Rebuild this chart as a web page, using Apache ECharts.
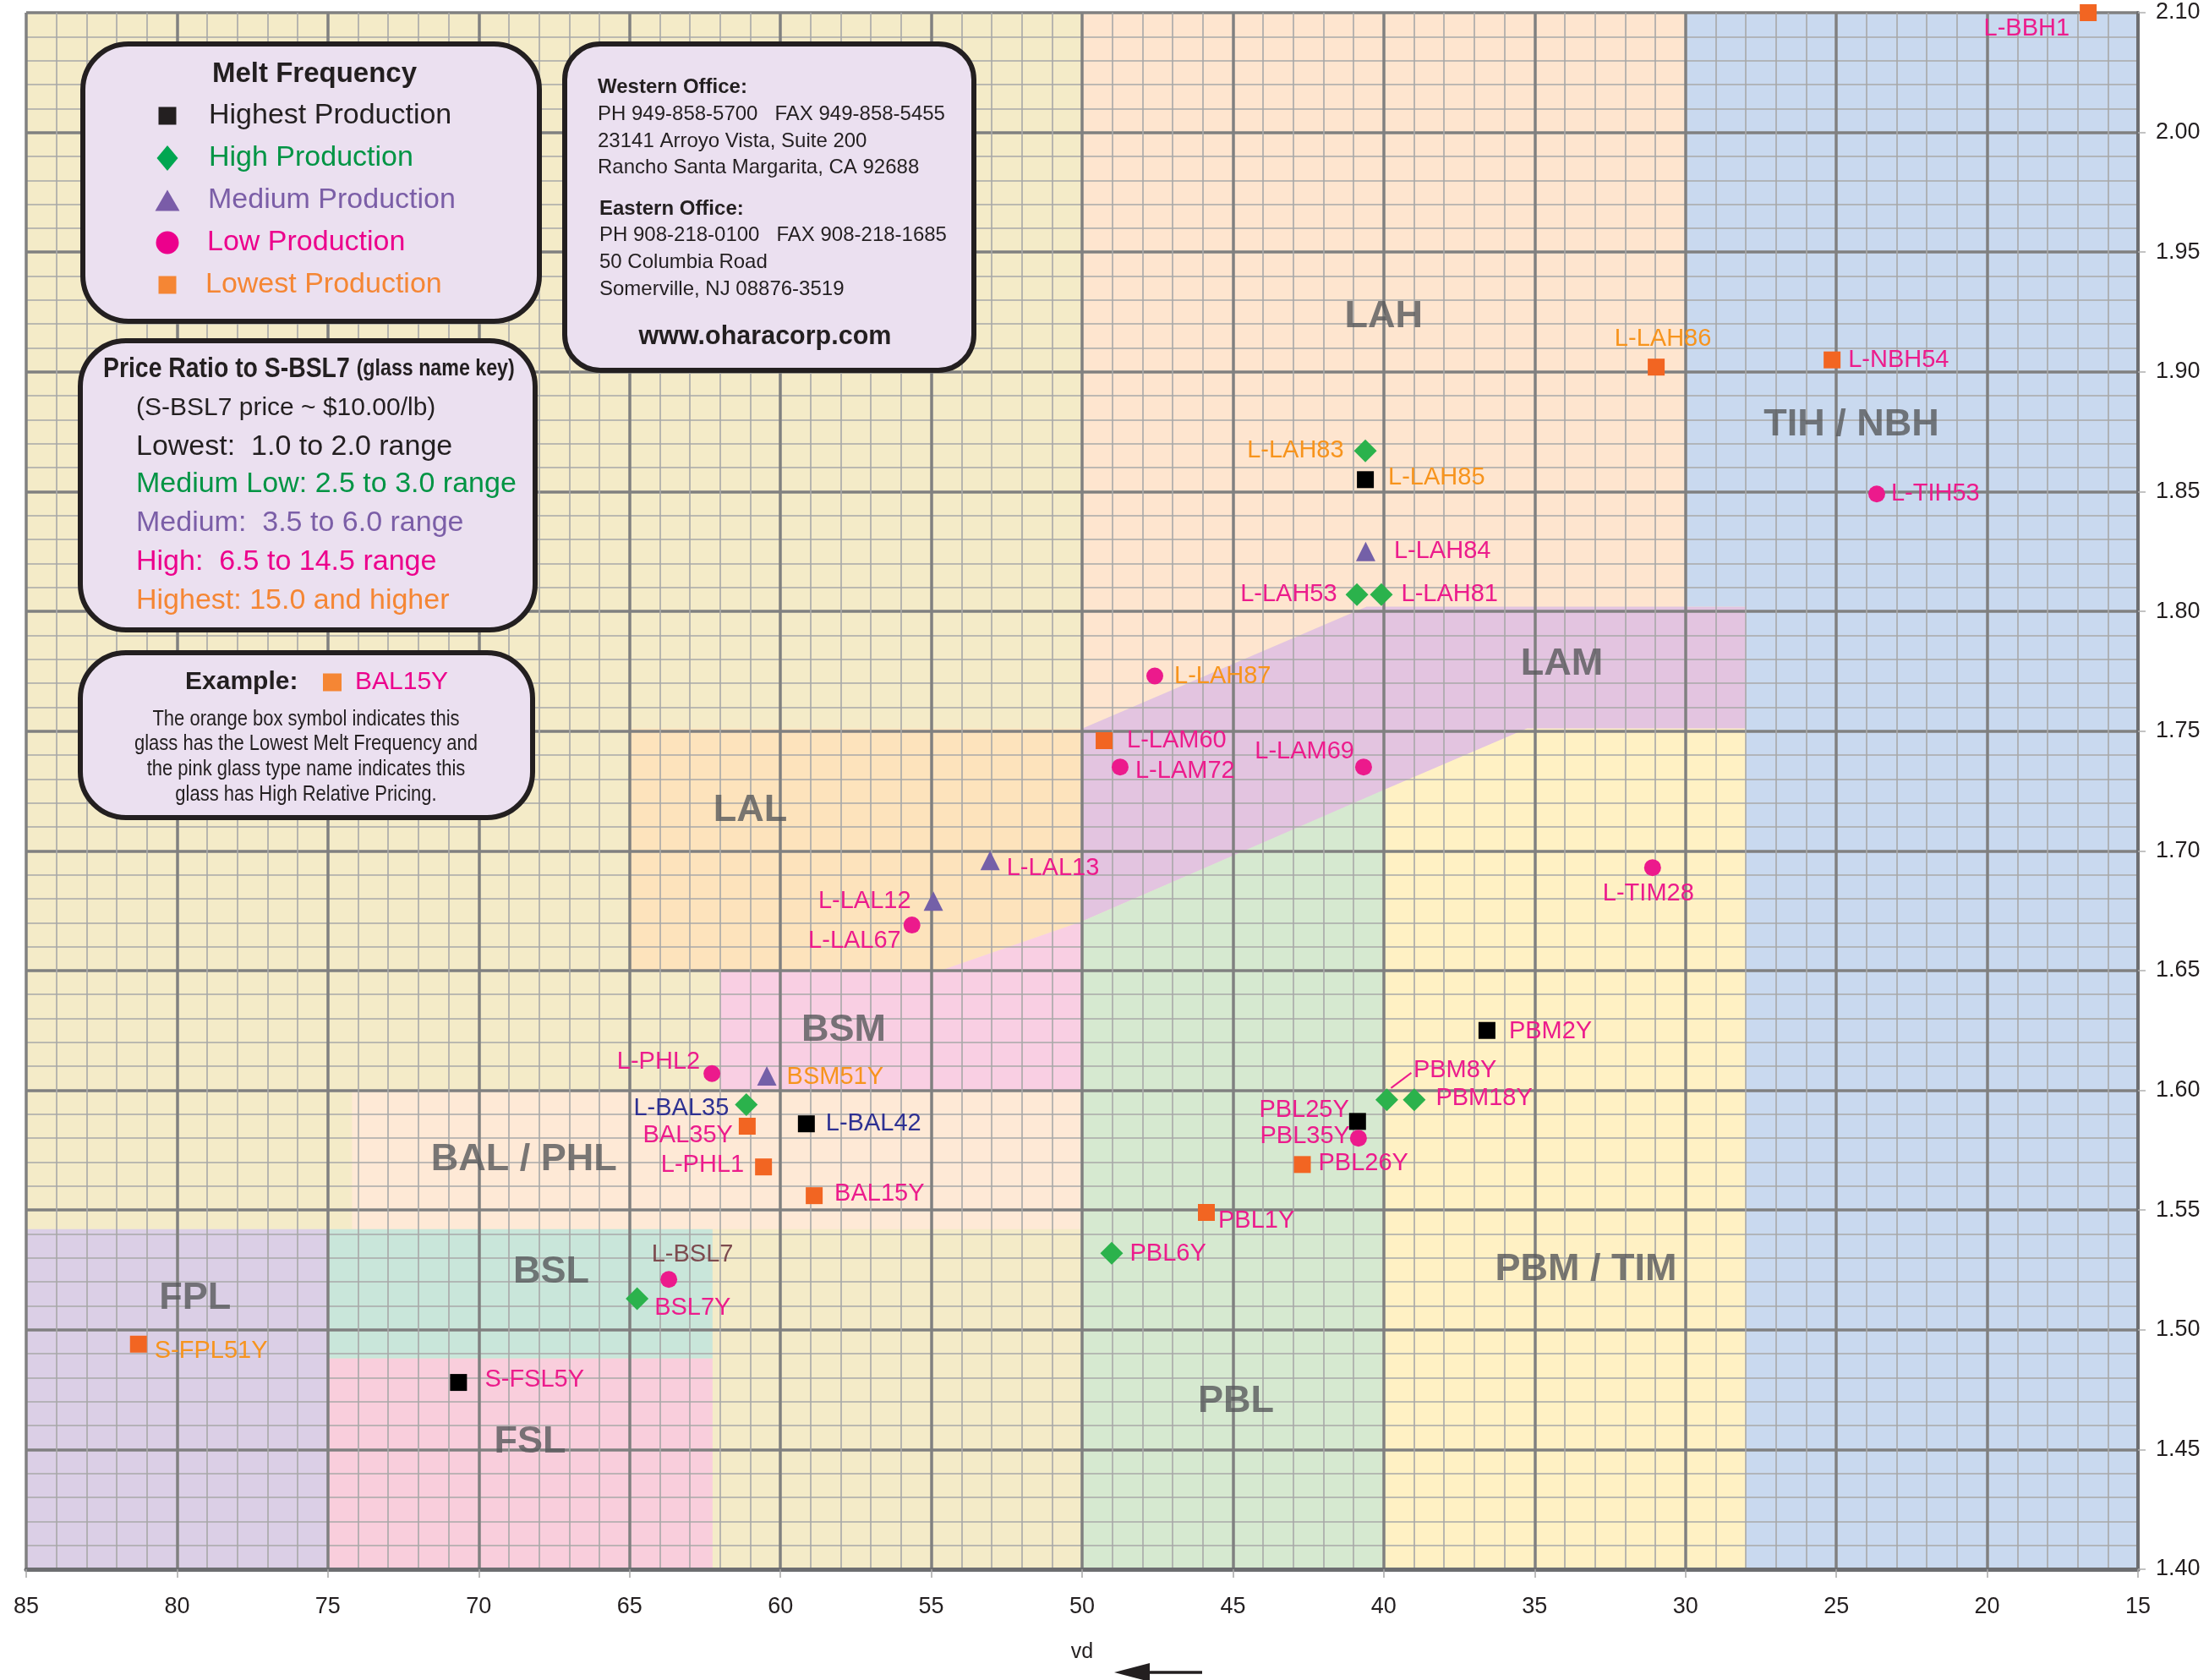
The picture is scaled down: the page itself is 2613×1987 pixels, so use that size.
<!DOCTYPE html>
<html><head><meta charset="utf-8">
<script src="https://cdn.jsdelivr.net/npm/echarts@6/dist/echarts.min.js"></script>
<style>html,body{margin:0;padding:0;background:#fff}#c{width:2613px;height:1987px}</style>
</head><body><div id="c"></div>
<script>
// ================= DATA =================
const xTickValues = [15, 20, 25, 30, 35, 40, 45, 50, 55, 60, 65, 70, 75, 80, 85];
const yTickLabels = ['1.40','1.45','1.50','1.55','1.60','1.65','1.70','1.75','1.80','1.85','1.90','1.95','2.00','2.10'];

const glassNames = ['L-BBH1','L-LAH86','L-NBH54','L-TIH53','L-TIM28','L-LAH83','L-LAH85','L-LAH84','L-LAH53','L-LAH81',
  'L-LAH87','L-LAM60','L-LAM72','L-LAM69','L-LAL13','L-LAL12','L-LAL67','L-PHL2','BSM51Y','L-BAL35',
  'BAL35Y','L-BAL42','L-PHL1','BAL15Y','PBM2Y','PBM8Y','PBM18Y','PBL25Y','PBL35Y','PBL26Y',
  'PBL1Y','PBL6Y','L-BSL7','BSL7Y','S-FPL51Y','S-FSL5Y'];
const glassVd = [16.65,30.97,25.14,23.66,31.09,40.61,40.61,40.60,40.89,40.08,
  47.59,49.27,48.74,40.67,53.05,54.93,55.64,62.27,60.45,61.13,
  61.10,59.14,60.56,58.88,36.58,39.90,38.99,40.87,40.84,42.70,
  45.88,49.02,63.70,64.75,81.28,70.67];
const glassNd = [2.100,1.902,1.905,1.849,1.693,1.867,1.855,1.825,1.807,1.807,
  1.773,1.746,1.735,1.735,1.696,1.679,1.669,1.607,1.606,1.594,
  1.585,1.586,1.568,1.556,1.625,1.596,1.596,1.587,1.580,1.569,
  1.549,1.532,1.521,1.513,1.494,1.478];
// melt frequency class
const glassMelt = ['Lowest','Lowest','Lowest','Low','Low','High','Highest','Medium','High','High',
  'Low','Lowest','Low','Low','Medium','Medium','Low','Low','Medium','High',
  'Lowest','Highest','Lowest','Lowest','Highest','High','High','Highest','Low','Lowest',
  'Lowest','High','Low','High','Lowest','Highest'];
// price class (name colour key)
const glassPrice = ['High','Highest','High','High','High','Highest','Highest','High','High','High',
  'Highest','High','High','High','High','High','High','High','Highest','Navy',
  'High','Navy','High','High','High','High','High','High','High','High',
  'High','High','Brown','High','Highest','High'];

const meltKeys = ['Highest','High','Medium','Low','Lowest'];
const meltNames = ['Highest Production','High Production','Medium Production','Low Production','Lowest Production'];

// glass type regions (vd, nd); nd 2.10 = top of chart
const regionNames = ['base','LAH','LAM','LAL','BSM','BAL/PHL','PBL','PBM/TIM','TIH/NBH','FPL','BSL','FSL'];
const regionPolys = [
  [[85,1.40],[15,1.40],[15,2.10],[85,2.10]],
  [[50,1.751],[50,2.10],[30,2.10],[30,1.802],[40.57,1.802]],
  [[50,1.751],[40.57,1.802],[28,1.802],[28,1.751],[35.26,1.751],[50,1.6705]],
  [[65,1.65],[54.7,1.65],[50,1.6705],[50,1.751],[65,1.751]],
  [[62,1.60],[50,1.60],[50,1.6705],[54.7,1.65],[62,1.65]],
  [[74.2,1.542],[50,1.542],[50,1.60],[74.2,1.60]],
  [[50,1.40],[40,1.40],[40,1.7254],[50,1.6705]],
  [[40,1.40],[28,1.40],[28,1.751],[35.26,1.751],[40,1.7254]],
  [[30,2.10],[15,2.10],[15,1.40],[28,1.40],[28,1.802],[30,1.802]],
  [[85,1.40],[75,1.40],[75,1.542],[85,1.542]],
  [[75,1.488],[62.25,1.488],[62.25,1.542],[75,1.542]],
  [[75,1.40],[62.25,1.40],[62.25,1.488],[75,1.488]]
];
const regionLabelNames = ['LAH','LAM','TIH / NBH','LAL','BSM','BAL / PHL','FPL','BSL','FSL','PBL','PBM / TIM'];
const regionLabelVd = [40.0,34.1,24.5,61.0,57.9,68.5,79.4,67.6,68.3,44.9,33.3];
const regionLabelNd = [1.923,1.778,1.878,1.717,1.625,1.571,1.513,1.524,1.453,1.470,1.525];

// ================= STYLES =================
const FONT = '"Liberation Sans", Arial, Helvetica, sans-serif';
const regionColors = ['#f4ebc8','#fee5cf','#e3c4e0','#fde3bc','#f9cfe3','#fee9d6','#d6e9d0','#fff1c4','#c9d9ef','#dbcfe6','#c9e6da','#f9cedc'];
const meltStyle = {
  Highest: {symbol:'rect', size:[20,20], color:'#000000'},
  High:    {symbol:'diamond', size:[27,27], color:'#2bb24c'},
  Medium:  {symbol:'triangle', size:[23,23], color:'#7460a8'},
  Low:     {symbol:'circle', size:[20,20], color:'#ec1a8c'},
  Lowest:  {symbol:'rect', size:[20,20], color:'#f26522'}
};
const priceColor = {Highest:'#f7941d', High:'#ec1c8c', Navy:'#2e3192', Brown:'#7d4b4f'};
// label placement: [position, distance, dx, dy]
const labelPlace = {
  'L-BBH1':['left',12,0,19], 'L-LAH86':['top',9,8,0], 'L-NBH54':['right',9,0,0], 'L-TIH53':['right',7,0,0],
  'L-TIM28':['bottom',6,-5,0], 'L-LAH83':['left',12,0,0], 'L-LAH85':['right',17,0,-2], 'L-LAH84':['right',22,0,0],
  'L-LAH53':['left',10,0,0], 'L-LAH81':['right',10,0,0], 'L-LAH87':['right',13,0,0], 'L-LAM60':['right',17,0,0],
  'L-LAM72':['right',8,0,5], 'L-LAM69':['left',1,0,-18], 'L-LAL13':['right',8,0,9], 'L-LAL12':['left',15,0,0],
  'L-LAL67':['left',3,0,19], 'L-PHL2':['left',4,0,-14], 'BSM51Y':['right',12,0,1], 'L-BAL35':['left',7,0,4],
  'BAL35Y':['left',7,0,11], 'L-BAL42':['right',13,0,0], 'L-PHL1':['left',13,0,-2], 'BAL15Y':['right',14,0,-2],
  'PBM2Y':['right',16,0,1], 'PBM8Y':['right',18,0,-35], 'PBM18Y':['right',12,0,-2], 'PBL25Y':['left',0,0,-13],
  'PBL35Y':['left',0,0,-2], 'PBL26Y':['right',9,0,-1], 'PBL1Y':['right',4,0,10], 'PBL6Y':['right',8,0,1],
  'L-BSL7':['top',5,28,0], 'BSL7Y':['right',7,0,11], 'S-FPL51Y':['right',9,0,8], 'S-FSL5Y':['right',21,0,-3]
};
const leaderNames = ['PBM8Y'];

// top segment of the axis (2.00 - 2.10) is drawn at half scale
function yMap(v){ return v <= 2.0 ? v : 2.0 + (v - 2.0) / 2; }

const chart = echarts.init(document.getElementById('c'), null, {renderer:'canvas'});

const regionSeries = {
  type:'custom', z:1, silent:true, clip:false,
  data: regionNames.map((n,i)=>[i]),
  renderItem: function(params, api){
    const i = params.dataIndex;
    const pts = regionPolys[i].map(p => api.coord([p[0], yMap(p[1])]));
    return {type:'polygon', shape:{points:pts}, style:{fill:regionColors[i], stroke:null}};
  }
};

const scatterSeries = meltKeys.map((k, si) => {
  const st = meltStyle[k];
  const data = [];
  glassNames.forEach((n, i) => {
    if (glassMelt[i] !== k) return;
    const lp = labelPlace[n];
    data.push({
      name:n, value:[glassVd[i], yMap(glassNd[i])],
      label:{show:true, formatter:n, position:lp[0], distance:lp[1], offset:[lp[2], lp[3]],
        color:priceColor[glassPrice[i]], fontSize:29, fontFamily:FONT}
    });
  });
  return {
    type:'scatter', name:meltNames[si], z:6, symbol:st.symbol, symbolSize:st.size,
    itemStyle:{color:st.color, opacity:1}, data, silent:true
  };
});

const leaderSeries = {
  type:'custom', z:6, silent:true, clip:false,
  data: leaderNames.map(n => { const i = glassNames.indexOf(n); return [glassVd[i], yMap(glassNd[i])]; }),
  renderItem: function(params, api){
    const p = api.coord([api.value(0), api.value(1)]);
    return {type:'line', shape:{x1:p[0]+5, y1:p[1]-14, x2:p[0]+29, y2:p[1]-32},
      style:{stroke:'#ec1c8c', lineWidth:2}};
  }
};

const regionLabelSeries = {
  type:'scatter', z:5, silent:true, symbolSize:1, itemStyle:{color:'rgba(0,0,0,0)'},
  data: regionLabelNames.map((n,i)=>({name:n, value:[regionLabelVd[i], yMap(regionLabelNd[i])]})),
  label:{show:true, position:'inside', formatter:'{b}', color:'#58595b', fontSize:45, fontWeight:'bold', fontFamily:FONT}
};

// ---------- graphic helpers ----------
function T(x, y, text, size, fill, o){
  o = o || {};
  const align = o.align || 'left';
  const st = {text, x:0, y:0, font:(o.bold?'bold ':'') + size + 'px ' + FONT, fill,
    textAlign:align, align:align, textVerticalAlign:'middle', verticalAlign:'middle'};
  if (o.rich) st.rich = o.rich;
  return {type:'text', x, y, scaleX:o.sx||1, scaleY:1, z:101, silent:true, style:st};
}
function box(x, y, w, h, r){
  return {type:'rect', z:100, silent:true, shape:{x, y, width:w, height:h, r},
    style:{fill:'#ebe0f0', stroke:'#231f20', lineWidth:6}};
}
const K = '#231f20';
const graphics = [
  // melt frequency box
  box(98, 52, 540, 328, 54),
  T(372, 88, 'Melt Frequency', 33, K, {bold:true, align:'center'}),
  {type:'rect', z:101, silent:true, shape:{x:187.5, y:126.5, width:21, height:21}, style:{fill:K}},
  T(247, 137, 'Highest Production', 34, K),
  {type:'polygon', z:101, silent:true, shape:{points:[[198,172],[210.5,187],[198,202],[185.5,187]]}, style:{fill:'#00a651'}},
  T(247, 187, 'High Production', 34, '#009444'),
  {type:'polygon', z:101, silent:true, shape:{points:[[198,224.5],[212.5,249.5],[183.5,249.5]]}, style:{fill:'#7a5ca8'}},
  T(246, 237, 'Medium Production', 34, '#7b5ea7'),
  {type:'circle', z:101, silent:true, shape:{cx:198, cy:287, r:13.5}, style:{fill:'#ec008c'}},
  T(245, 287, 'Low Production', 34, '#ec008c'),
  {type:'rect', z:101, silent:true, shape:{x:187.5, y:326.5, width:21, height:21}, style:{fill:'#f58634'}},
  T(243, 337, 'Lowest Production', 34, '#f58634'),

  // price ratio box
  box(95, 403, 538, 342, 54),
  T(122, 437, '{a|Price Ratio to S-BSL7 }{b|(glass name key)}', 33, K, {sx:0.86, rich:{
    a:{fontSize:33, fontWeight:'bold', fontFamily:FONT, fill:K},
    b:{fontSize:27, fontWeight:'bold', fontFamily:FONT, fill:K}}}),
  T(161, 483, '(S-BSL7 price ~ $10.00/lb)', 30, K),
  T(161, 529, 'Lowest:  1.0 to 2.0 range', 34, K),
  T(161, 573, 'Medium Low: 2.5 to 3.0 range', 34, '#009444'),
  T(161, 619, 'Medium:  3.5 to 6.0 range', 34, '#7b5ea7'),
  T(161, 665, 'High:  6.5 to 14.5 range', 34, '#ec008c'),
  T(161, 711, 'Highest: 15.0 and higher', 34, '#f58634'),

  // example box
  box(95, 772, 535, 195, 54),
  T(219, 807, 'Example:', 30, K, {bold:true}),
  {type:'rect', z:101, silent:true, shape:{x:382, y:796.5, width:22, height:21}, style:{fill:'#f58634'}},
  T(420, 807, 'BAL15Y', 30, '#ec008c'),
  T(362, 851, 'The orange box symbol indicates this', 25, K, {align:'center', sx:0.88}),
  T(362, 880, 'glass has the Lowest Melt Frequency and', 25, K, {align:'center', sx:0.88}),
  T(362, 910, 'the pink glass type name indicates this', 25, K, {align:'center', sx:0.88}),
  T(362, 940, 'glass has High Relative Pricing.', 25, K, {align:'center', sx:0.88}),

  // contact box
  box(668, 52, 484, 386, 42),
  T(707, 103, 'Western Office:', 24, K, {bold:true}),
  T(707, 135, 'PH 949-858-5700   FAX 949-858-5455', 24, K),
  T(707, 167, '23141 Arroyo Vista, Suite 200', 24, K),
  T(707, 198, 'Rancho Santa Margarita, CA 92688', 24, K),
  T(709, 247, 'Eastern Office:', 24, K, {bold:true}),
  T(709, 278, 'PH 908-218-0100   FAX 908-218-1685', 24, K),
  T(709, 310, '50 Columbia Road', 24, K),
  T(709, 342, 'Somerville, NJ 08876-3519', 24, K),
  T(905, 399, 'www.oharacorp.com', 30.5, K, {bold:true, align:'center'}),

  // arrow under the vd axis name
  {type:'line', z:101, silent:true, shape:{x1:1352, y1:1978, x2:1422, y2:1978}, style:{stroke:K, lineWidth:3.5}},
  {type:'polygon', z:101, silent:true, shape:{points:[[1318,1978],[1360,1967],[1360,1989]]}, style:{fill:K}}
];

const option = {
  animation:false,
  backgroundColor:'#ffffff',
  grid:{left:31, right:84, top:15, bottom:131, containLabel:false},
  xAxis:{
    type:'value', min:15, max:85, interval:5, inverse:true, position:'bottom', z:3,
    name:'vd', nameLocation:'middle', nameGap:86,
    nameTextStyle:{fontSize:25, color:K, fontFamily:FONT},
    axisLine:{show:true, onZero:false, lineStyle:{color:'#6d6e71', width:5}},
    axisTick:{show:true, inside:false, length:10, lineStyle:{color:'#a6a6a6', width:1.5}},
    axisLabel:{show:true, margin:31, fontSize:27, color:K, fontFamily:'"Liberation Sans Narrow", ' + FONT,
      formatter: v => { const i = xTickValues.indexOf(Math.round(v)); return i >= 0 ? String(xTickValues[i]) : ''; }},
    splitLine:{show:true, lineStyle:{color:'#808080', width:3.5}},
    minorTick:{show:false, splitNumber:5},
    minorSplitLine:{show:true, lineStyle:{color:'#a8a8a8', width:1.6}}
  },
  yAxis:{
    type:'value', min:1.40, max:2.05, interval:0.05, position:'right', z:3,
    axisLine:{show:true, onZero:false, lineStyle:{color:'#6d6e71', width:4}},
    axisTick:{show:true, inside:false, length:9, lineStyle:{color:'#b0b0b0', width:1.5}},
    axisLabel:{show:true, margin:21, fontSize:27, color:K, fontFamily:'"Liberation Sans Narrow", ' + FONT,
      formatter: v => { const i = Math.round((v - 1.40) / 0.05); return yTickLabels[i] || ''; }},
    splitLine:{show:true, lineStyle:{color:'#808080', width:3.5}},
    minorTick:{show:false, splitNumber:5},
    minorSplitLine:{show:true, lineStyle:{color:'#a8a8a8', width:1.6}}
  },
  series:[regionSeries, regionLabelSeries, leaderSeries].concat(scatterSeries),
  graphic:{elements:graphics}
};
chart.setOption(option);
</script>
</body></html>
